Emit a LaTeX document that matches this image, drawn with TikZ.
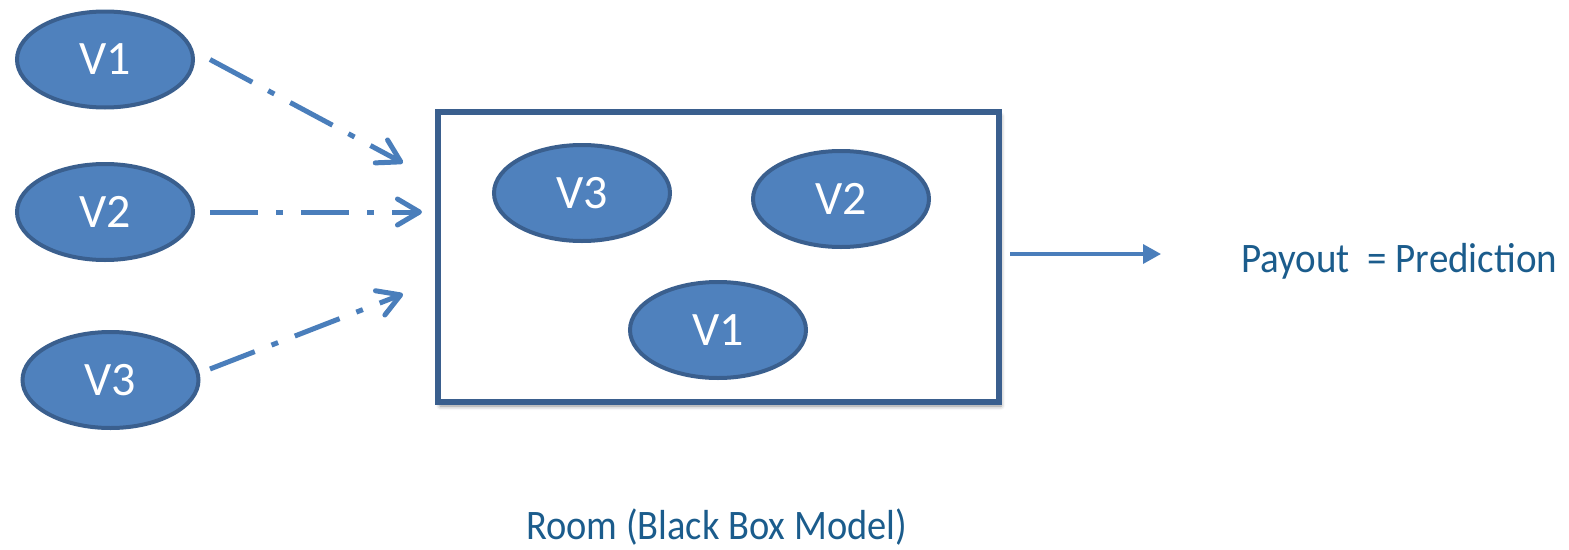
\documentclass[tikz,border=0pt]{standalone}
\usepackage{fontspec}
\usepackage{graphicx}
\setmainfont{Carlito}
\usetikzlibrary{shapes.geometric,arrows.meta,shadows.blur}

\definecolor{ovalfill}{HTML}{4F81BD}
\definecolor{ovalline}{HTML}{3A5F8E}
\definecolor{arrowblue}{HTML}{4A7EBB}
\definecolor{labelblue}{HTML}{1B5C8C}

\tikzset{
  oval/.style={ellipse, draw=ovalline, fill=ovalfill, line width=4pt,
    minimum width=176pt, minimum height=96pt, inner sep=0pt, outer sep=0pt,
    text=white, font=\fontsize{48}{50}\selectfont},
  roombox/.style={draw=ovalline, fill=white, line width=6.5pt, line join=miter,
    minimum width=561pt, minimum height=290pt, inner sep=0pt, outer sep=0pt,
    blur shadow={shadow xshift=2pt, shadow yshift=-4pt, shadow blur radius=4pt,
      shadow opacity=45}},
  dasharrow/.style={draw=arrowblue, line width=5pt, line cap=butt,
    dash pattern=on 48pt off 18pt on 7pt off 18pt,
    -{Straight Barb[length=22pt, width=26pt, line width=5pt, round]}},
  outarrow/.style={draw=arrowblue, line width=3.5pt,
    -{Triangle[length=18pt, width=19pt]}},
  caption/.style={text=labelblue, font=\fontsize{42}{44}\selectfont, inner sep=0pt}
}

\begin{document}
\begin{tikzpicture}[x=1pt, y=-1pt]
  \useasboundingbox (0,0) rectangle (1569,549);

  % input variables
  \node[oval] (v1) at (105,59.5) {V1};
  \node[oval] (v2) at (105,212) {V2};
  \node[oval] (v3) at (110.5,380) {V3};

  % the room holding the variables
  \node[roombox] (box) at (718.5,257) {};
  \node[oval] (r3) at (582,193) {V3};
  \node[oval] (r2) at (841,199) {V2};
  \node[oval] (r1) at (718,330) {V1};

  % arrow tips and output end
  \coordinate (t1) at (403,163);
  \coordinate (t2) at (422,212);
  \coordinate (t3) at (403,294);
  \coordinate (tout) at (1161,254);

  \draw[dasharrow] ([xshift=17pt]v1.east) -- (t1);
  \draw[dasharrow] ([xshift=17pt]v2.east) -- (t2);
  \draw[dasharrow] ([xshift=11.5pt,yshift=11pt]v3.east) -- (t3);
  \draw[outarrow] ([xshift=11pt,yshift=3pt]box.east) -- (tout);

  % labels, set in a narrowed face
  \node[caption, anchor=base west] (payout) at (1241,272)
    {\resizebox{316pt}{\height}{Payout\ \ = Prediction}};
  \node[caption, anchor=base west] (room) at (526,539)
    {\resizebox{381pt}{\height}{Room (Black Box Model)}};
\end{tikzpicture}
\end{document}
